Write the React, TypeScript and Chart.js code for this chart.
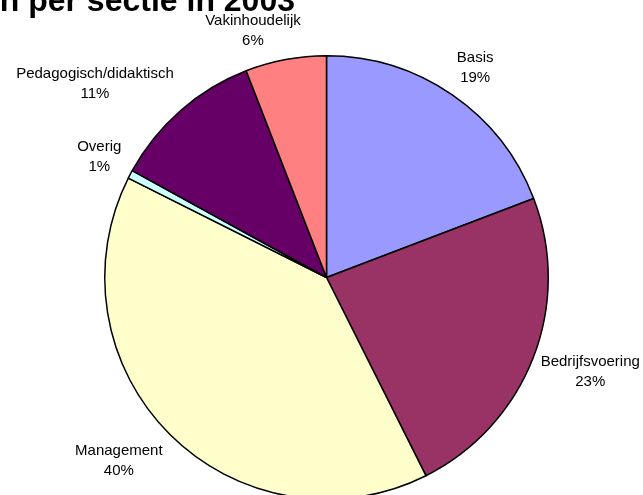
import React, { useEffect, useRef } from "react";
import { Chart, registerables } from "chart.js";

Chart.register(...registerables);

const titleText = "Aantal cursussen per sectie in 2003";
const categories = ["Basis", "Bedrijfsvoering", "Management", "Overig", "Pedagogisch/didaktisch", "Vakinhoudelijk"];
const shares = [19.2, 23.4, 39.8, 0.6, 11.1, 5.9];
const sliceColors = ["#9999FF", "#993366", "#FFFFCC", "#CCFFFF", "#660066", "#FF8080"];

const FONT = "15px 'Liberation Sans', Arial, sans-serif";

const outsideLabels = {
  id: "outsideLabels",
  afterDraw(chart: any) {
    const ctx = chart.ctx;
    const meta = chart.getDatasetMeta(0);
    const data = chart.data.datasets[0].data as number[];
    const total = data.reduce((a: number, b: number) => a + b, 0);
    ctx.save();
    ctx.font = FONT;
    ctx.fillStyle = "#000";
    ctx.textAlign = "center";
    ctx.textBaseline = "middle";
    meta.data.forEach((arc: any, i: number) => {
      const { x, y, startAngle, endAngle, outerRadius } = arc.getProps(
        ["x", "y", "startAngle", "endAngle", "outerRadius"],
        true
      );
      const mid = (startAngle + endAngle) / 2;
      const c = Math.cos(mid);
      const s = Math.sin(mid);
      const lines = [String(chart.data.labels[i]), Math.round((data[i] / total) * 100) + "%"];
      const w = Math.max(...lines.map((l) => ctx.measureText(l).width));
      const h = 38;
      const r = outerRadius + 10;
      const clamp = (v: number) => Math.max(-1, Math.min(1, v));
      const px = x + r * c + (w / 2) * clamp(c * 3.5) - 2 * Math.max(0, c);
      const py = y + r * s + (h / 2) * clamp(s * 1.5);
      ctx.fillText(lines[0], px, py - 10);
      ctx.fillText(lines[1], px, py + 10);
    });
    ctx.restore();
  },
};

const partialTitle = {
  id: "partialTitle",
  afterDraw(chart: any) {
    const ctx = chart.ctx;
    ctx.save();
    ctx.font = "bold 32px 'Liberation Sans', Arial, sans-serif";
    ctx.fillStyle = "#000";
    ctx.textAlign = "right";
    ctx.textBaseline = "alphabetic";
    ctx.fillText(titleText, 295, 11);
    ctx.restore();
  },
};

export default function App() {
  const ref = useRef<HTMLCanvasElement | null>(null);
  useEffect(() => {
    if (!ref.current) return;
    const chart = new Chart(ref.current, {
      type: "pie",
      data: {
        labels: categories,
        datasets: [
          {
            data: shares,
            backgroundColor: sliceColors,
            borderColor: "#000",
            borderWidth: 1.5,
          },
        ],
      },
      options: {
        responsive: false,
        animation: false,
        devicePixelRatio: 1,
        layout: { padding: { left: 104, right: 94, top: 55, bottom: 20 } },
        plugins: {
          legend: { display: false },
          tooltip: { enabled: false },
          title: { display: false },
        },
      },
      plugins: [outsideLabels, partialTitle],
    });
    return () => chart.destroy();
  }, []);
  return (
    <div
      style={{
        position: "fixed",
        left: 0,
        top: 0,
        width: 643,
        height: 495,
        overflow: "hidden",
        background: "#fff",
      }}
    >
      <canvas ref={ref} width={643} height={520} style={{ display: "block" }} />
    </div>
  );
}
